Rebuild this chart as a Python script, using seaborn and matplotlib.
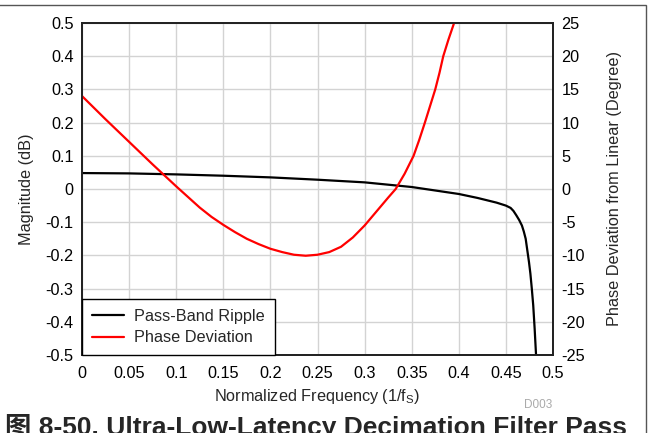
import matplotlib
matplotlib.use("Agg")
import matplotlib.pyplot as plt
import seaborn as sns
from matplotlib.patches import Rectangle

# Pass-band ripple (magnitude, dB)
ripple_freq = [0, 0.05, 0.1, 0.15, 0.2, 0.25, 0.3, 0.35, 0.4, 0.42, 0.44, 0.45,
               0.455, 0.458, 0.461, 0.464, 0.467, 0.469, 0.471, 0.473, 0.4745,
               0.476, 0.4775, 0.479, 0.4805, 0.482, 0.483]
ripple_db = [0.048, 0.047, 0.044, 0.040, 0.035, 0.028, 0.020, 0.006, -0.015, -0.027,
             -0.041, -0.050, -0.057, -0.066, -0.079, -0.093, -0.110, -0.128, -0.150,
             -0.190, -0.220, -0.255, -0.300, -0.350, -0.420, -0.500, -0.550]

# Phase deviation from linear (degree)
phase_freq = [0, 0.025, 0.05, 0.075, 0.1, 0.1125, 0.125, 0.1375, 0.15, 0.1625,
              0.175, 0.1875, 0.2, 0.2125, 0.225, 0.2375, 0.25, 0.2625, 0.275,
              0.2875, 0.3, 0.3125, 0.325, 0.333, 0.3425, 0.352, 0.358, 0.364,
              0.3695, 0.375, 0.3795, 0.3835, 0.389, 0.395, 0.398]
phase_deg = [14.0, 10.5, 7.1, 3.7, 0.4, -1.2, -2.8, -4.2, -5.4, -6.5,
             -7.5, -8.3, -9.0, -9.5, -9.9, -10.05, -9.9, -9.5, -8.7,
             -7.3, -5.5, -3.4, -1.3, 0.0, 2.3, 5.0, 7.4, 10.0,
             12.5, 15.0, 17.5, 20.0, 22.5, 25.0, 26.5]

x_ticks = [0, 0.05, 0.1, 0.15, 0.2, 0.25, 0.3, 0.35, 0.4, 0.45, 0.5]
x_labels = ["0", "0.05", "0.1", "0.15", "0.2", "0.25", "0.3", "0.35", "0.4", "0.45", "0.5"]
mag_ticks = [0.5, 0.4, 0.3, 0.2, 0.1, 0, -0.1, -0.2, -0.3, -0.4, -0.5]
phase_ticks = [25, 20, 15, 10, 5, 0, -5, -10, -15, -20, -25]

sns.set_style("white")
plt.rcParams["font.family"] = ["Liberation Sans", "Noto Sans CJK SC", "DejaVu Sans"]
plt.rcParams["axes.unicode_minus"] = False

fig = plt.figure(figsize=(6.49, 4.33), dpi=100)
ax = fig.add_axes([82 / 649, 78 / 433, 471 / 649, 332 / 433])
ax2 = ax.twinx()

sns.lineplot(x=ripple_freq, y=ripple_db, ax=ax, color="black", linewidth=1.6,
             label="Pass-Band Ripple", legend=False)
sns.lineplot(x=phase_freq, y=phase_deg, ax=ax2, color="#ff0000", linewidth=1.6,
             label="Phase Deviation", legend=False)

ax.set_xlim(0, 0.5)
ax.set_ylim(-0.5, 0.5)
ax2.set_ylim(-25, 25)
ax.set_xticks(x_ticks)
ax.set_xticklabels(x_labels)
ax.set_yticks(mag_ticks)
ax.set_yticklabels([("%g" % v) for v in mag_ticks])
ax2.set_yticks(phase_ticks)
ax2.set_yticklabels([str(v) for v in phase_ticks])

ax.grid(True, color="#d3d3d3", linewidth=1.0)
ax.set_axisbelow(True)
for a in (ax, ax2):
    a.tick_params(length=0, labelsize=11.7, pad=6, colors="black")
    for s in a.spines.values():
        s.set_color("#222222")
        s.set_linewidth(1.3)
ax.tick_params(axis="x", pad=8)

ax.set_xlabel("Normalized Frequency (1/f$_\\mathregular{S}$)", fontsize=11.7, labelpad=4)
ax.set_ylabel("Magnitude (dB)", fontsize=11.7, labelpad=8)
ax2.set_ylabel("Phase Deviation from Linear (Degree)", fontsize=11.7, labelpad=16)

# combined legend in the lower left corner
h1, l1 = ax.get_legend_handles_labels()
h2, l2 = ax2.get_legend_handles_labels()
leg = ax2.legend(h1 + h2, l1 + l2, loc="lower left", borderaxespad=0,
                 fontsize=11.7, fancybox=False, framealpha=1, edgecolor="black",
                 handlelength=2.0, handletextpad=0.6, borderpad=0.6,
                 labelspacing=0.4)
leg.get_frame().set_linewidth(1.0)

fig.text(538 / 649, 1 - 405 / 433, "D003", fontsize=8.5, color="#aaaaaa",
         ha="center", va="center")
fig.text(5 / 649, 1 - 435 / 433, "图 8-50. Ultra-Low-Latency Decimation Filter Pass",
         fontsize=19, fontweight="bold", ha="left", va="baseline",
         family=["Liberation Sans", "Noto Sans CJK SC"])

# outer frame (top and right edges visible)
fig.patches.append(Rectangle((-0.05, -0.1), 646.5 / 649 + 0.05, 1 - 5 / 433 + 0.1,
                             transform=fig.transFigure, fill=False,
                             edgecolor="#555555", linewidth=1.0))

fig.savefig("out.png", dpi=100)
